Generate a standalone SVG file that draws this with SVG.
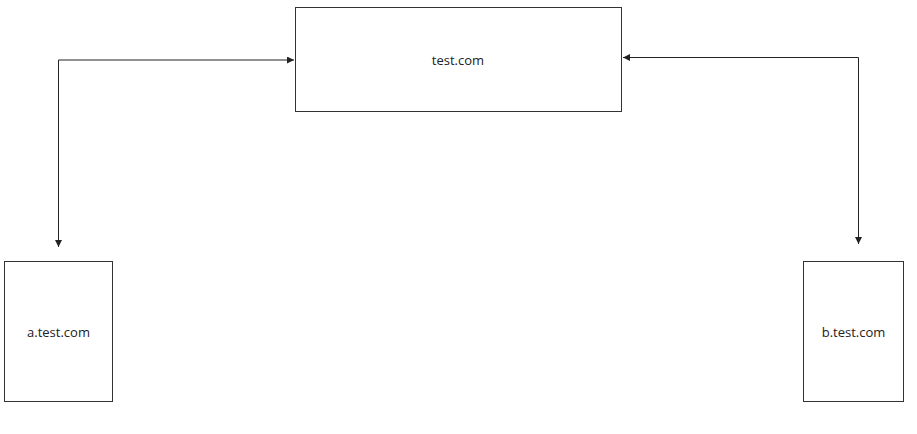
<svg xmlns="http://www.w3.org/2000/svg" width="917" height="434" viewBox="0 0 917 434">
<style>
.box{fill:#fff;stroke:#333;stroke-width:1}
.lbl{font-family:"Open Sans","Noto Sans",sans-serif;font-size:13px;fill:#222;text-anchor:middle;dominant-baseline:central}
.con{fill:none;stroke:#222;stroke-width:1}
</style>
<defs>
<marker id="arr" viewBox="0 0 10 10" refX="10" refY="5" markerWidth="7" markerHeight="7" markerUnits="userSpaceOnUse" orient="auto-start-reverse">
<path d="M0,0 L10,5 L0,10 z" fill="#222"/>
</marker>
</defs>
<rect width="917" height="434" fill="#fff"/>
<g id="connectors">
<path class="con" d="M294,60 H58.5 V247" marker-start="url(#arr)" marker-end="url(#arr)"/>
<path class="con" d="M623,57.5 H858.5 V244" marker-start="url(#arr)" marker-end="url(#arr)"/>
</g>
<g id="test">
<rect class="box" x="295.5" y="7.5" width="326" height="104"/>
<text class="lbl" x="458" y="60">test.com</text>
</g>
<g id="a">
<rect class="box" x="4.5" y="261.5" width="108" height="140"/>
<text class="lbl" x="58.5" y="332">a.test.com</text>
</g>
<g id="b">
<rect class="box" x="803.5" y="261.5" width="100" height="140"/>
<text class="lbl" x="853.5" y="332">b.test.com</text>
</g>
</svg>
